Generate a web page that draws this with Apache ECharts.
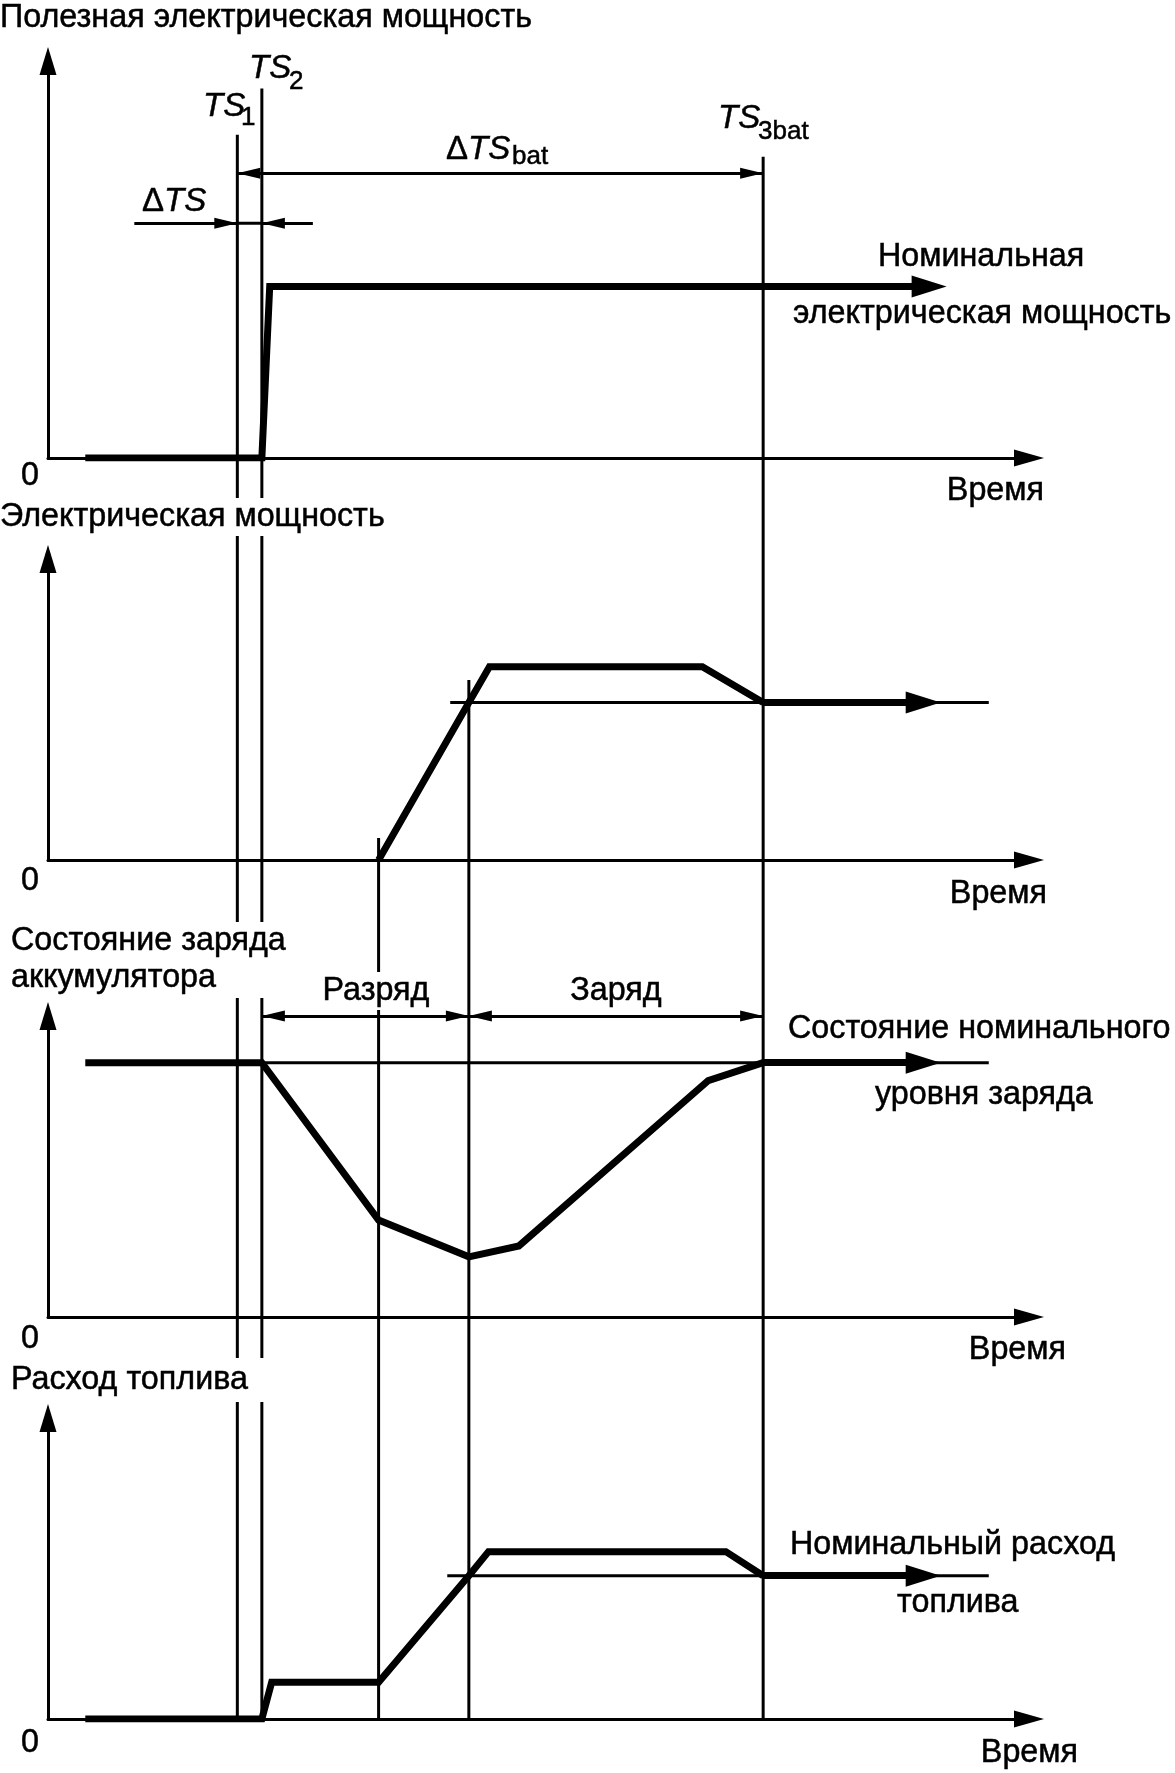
<!DOCTYPE html>
<html>
<head>
<meta charset="utf-8">
<title>Диаграмма запуска</title>
<script src="https://cdn.jsdelivr.net/npm/echarts@6/dist/echarts.min.js"></script>
<style>
  html, body { margin: 0; padding: 0; background: #fff; }
  #chart { width: 1175px; height: 1773px; }
</style>
</head>
<body>
<div id="chart"></div>
<script>
// время: 0..100 = длина оси времени, значения: 0..100 = высота каждой панели

// TS1, TS2, пуск генератора, выход на номинал, TS3bat
const eventTimes = [19.3, 21.8, 33.7, 42.9, 72.9];
const eventTopPanel = [0, 0, 1, 1, 0];
const eventTopValue = [81.4, 93.1, 7.3, 59.8, 75.9];

// 1. полезная электрическая мощность
const usefulPower = [[3.8, 0], [21.8, 0], [22.6, 43.2], [72.9, 43.2]];
const usefulPowerTip = 91.6;

// 2. электрическая мощность генератора
const genPower = [[33.7, 0], [42.9, 52.3], [45.0, 64.2], [66.7, 64.2], [72.9, 52.3]];
const genNominal = 52.3;
const genNominalSpan = [41.0, 95.9];

// 3. состояние заряда аккумулятора
const soc = [[3.8, 84.5], [21.8, 84.5], [33.7, 32.2], [42.9, 20.0], [48.0, 23.6], [67.3, 78.5], [72.9, 84.5]];
const socNominal = 84.5;
const socNominalSpan = [21.8, 95.9];

// 4. расход топлива
const fuel = [[3.8, 0], [21.8, 0], [22.8, 12.2], [33.7, 12.2], [42.9, 47.6], [44.9, 55.6], [69.1, 55.6], [72.9, 47.6]];
const fuelNominal = 47.6;
const fuelNominalSpan = [40.7, 95.9];

const curveTip = 91.0;

// размерные стрелки
const dTsLevel = 59.1;
const dTsOuter = [8.8, 27.0];
const dTsBatLevel = 71.7;
const chargeLevel = 100;

// ---- layout ----
const GRID_LEFT = 48, GRID_W = 981;
const PANELS = [
  {top: 61, height: 397},
  {top: 559, height: 301},
  {top: 1016, height: 301},
  {top: 1418, height: 301}
];
const PX_PER_T = GRID_W / 100;
const THICK = 7, THIN = 3;
const BIG_ARROW = [22, 35];
const SMALL_ARROW = [11, 23];
const FONT = '"Liberation Sans", Arial, Helvetica, sans-serif';
const FS = 32.3;

// треугольник markLine рисуется центром в конечной точке
const arrowCenter = tip => tip - BIG_ARROW[1] / 2 / PX_PER_T;

const chart = echarts.init(document.getElementById('chart'));

const grids = PANELS.map(p => ({left: GRID_LEFT, width: GRID_W, top: p.top, height: p.height}));
const axisBase = {
  type: 'value', min: 0, max: 100,
  axisTick: {show: false}, axisLabel: {show: false}, splitLine: {show: false}
};
const xAxes = PANELS.map((p, i) => Object.assign({}, axisBase, {
  gridIndex: i,
  axisLine: {onZero: false, lineStyle: {color: '#000', width: THIN}, symbol: ['none', 'triangle'], symbolSize: [17, 30]}
}));
const yAxes = PANELS.map((p, i) => Object.assign({}, axisBase, {
  gridIndex: i,
  axisLine: {onZero: false, lineStyle: {color: '#000', width: THIN}, symbol: ['none', 'triangle'], symbolSize: [17, 28]}
}));

function curve(i, data, level, tip) {
  return {
    type: 'line', xAxisIndex: i, yAxisIndex: i, data: data,
    color: '#000', symbol: 'none', silent: true, z: 3,
    lineStyle: {color: '#000', width: THICK, join: 'miter'},
    markLine: {
      silent: true, z: 3,
      symbol: ['none', 'triangle'],
      symbolSize: BIG_ARROW,
      itemStyle: {color: '#000'},
      label: {show: false},
      lineStyle: {color: '#000', width: THICK, type: 'solid'},
      data: [[{coord: [data[data.length - 1][0], level]}, {coord: [arrowCenter(tip), level]}]]
    }
  };
}

function thinLine(i, span, level) {
  return {
    type: 'line', xAxisIndex: i, yAxisIndex: i, symbol: 'none', silent: true, z: 2,
    color: '#000',
    data: [[span[0], level], [span[1], level]],
    lineStyle: {color: '#000', width: THIN}
  };
}

function dimArrows(i, symbols, segs, extra) {
  return {
    type: 'line', xAxisIndex: i, yAxisIndex: i, symbol: 'none', silent: true, z: 5,
    color: '#000',
    data: extra || [],
    lineStyle: {color: '#000', width: THIN},
    markLine: {
      silent: true, z: 5,
      symbol: symbols,
      symbolSize: SMALL_ARROW,
      symbolOffset: [[0, '50%'], [0, '50%']],
      itemStyle: {color: '#000'},
      label: {show: false},
      lineStyle: {color: '#000', width: THIN, type: 'solid'},
      data: segs.map(s => [{coord: [s[0], s[2]]}, {coord: [s[1], s[2]]}])
    }
  };
}

const series = [
  curve(0, usefulPower, usefulPower[usefulPower.length - 1][1], usefulPowerTip),
  dimArrows(0, ['none', 'triangle'],
    [[dTsOuter[0], eventTimes[0], dTsLevel], [dTsOuter[1], eventTimes[1], dTsLevel]],
    [[eventTimes[0], dTsLevel], [eventTimes[1], dTsLevel]]),
  dimArrows(0, ['triangle', 'triangle'], [[eventTimes[0], eventTimes[4], dTsBatLevel]]),
  thinLine(1, genNominalSpan, genNominal),
  curve(1, genPower, genNominal, curveTip),
  thinLine(2, socNominalSpan, socNominal),
  curve(2, soc, socNominal, curveTip),
  dimArrows(2, ['triangle', 'triangle'],
    [[eventTimes[1], eventTimes[3], chargeLevel], [eventTimes[3], eventTimes[4], chargeLevel]]),
  thinLine(3, fuelNominalSpan, fuelNominal),
  curve(3, fuel, fuelNominal, curveTip)
];

chart.setOption({
  animation: false,
  backgroundColor: '#fff',
  grid: grids,
  xAxis: xAxes,
  yAxis: yAxes,
  series: series
});

// ---- вертикальные линии и подписи ----
function px(panel, t, v) {
  return chart.convertToPixel({gridIndex: panel}, [t, v]);
}

const graphic = [];
eventTimes.forEach((t, k) => {
  const top = px(eventTopPanel[k], t, eventTopValue[k]);
  const bottom = px(3, t, 0);
  graphic.push({
    type: 'line', z: 1, silent: true,
    shape: {x1: top[0], y1: top[1], x2: bottom[0], y2: bottom[1]},
    style: {stroke: '#000', lineWidth: THIN}
  });
});

function text(str, x, y, o) {
  o = o || {};
  const size = o.size || FS;
  const style = {
    text: str, x: x, y: y,
    font: (o.italic ? 'italic ' : '') + size + 'px ' + FONT,
    fill: '#000',
    stroke: '#000', lineWidth: 0.5,
    align: o.align || 'left', textAlign: o.align || 'left',
    verticalAlign: 'middle', textVerticalAlign: 'middle',
    lineHeight: o.lh || Math.round(size * 1.05)
  };
  if (o.bg) {
    style.backgroundColor = '#fff';
    style.padding = o.pad || [3, 6];
  }
  if (o.rich) style.rich = o.rich;
  graphic.push({type: 'text', z: 4, silent: true, style: style});
}

// заголовки панелей
text('Полезная электрическая мощность', 0, 18);
text('Электрическая мощность', 0, 517, {bg: true, lh: 32, pad: [3, 6, 3, 0]});
text('Состояние заряда\nаккумулятора', 11, 960, {bg: true, lh: 37, pad: [1, 6, 1, 0]});
text('Расход топлива', 11, 1380, {bg: true, lh: 34, pad: [5, 26, 5, 0]});

// нули и "Время"
[[476, 491, 1044], [881, 894, 1047], [1339, 1350, 1066], [1743, 1753, 1078]].forEach(r => {
  text('0', 30, r[0], {align: 'center'});
  text('Время', r[2], r[1], {align: 'right'});
});

// обозначения моментов времени
const rich = {
  u: {font: '33px ' + FONT},
  i: {font: 'italic 33px ' + FONT}
};
text('TS', 203, 107, {italic: true, size: 33});
text('1', 241, 118, {size: 26});
text('TS', 249, 69, {italic: true, size: 33});
text('2', 289, 82, {size: 26});
text('TS', 718, 119, {italic: true, size: 33});
text('3bat', 758, 132, {size: 26});
text('{u|Δ}{i|TS}', 446, 150, {size: 33, rich: rich});
text('bat', 512, 157, {size: 26});
text('{u|Δ}{i|TS}', 142, 202, {size: 33, rich: rich});

// подписи к кривым
text('Номинальная', 878, 257);
text('электрическая мощность', 793, 314);
text('Разряд', 376, 991, {align: 'center', bg: true, lh: 30, pad: [4, 8]});
text('Заряд', 616, 991, {align: 'center'});
text('Состояние номинального', 788, 1029);
text('уровня заряда', 875, 1095);
text('Номинальный расход', 790, 1545);
text('топлива', 897, 1603);

chart.setOption({graphic: graphic});
</script>
</body>
</html>
